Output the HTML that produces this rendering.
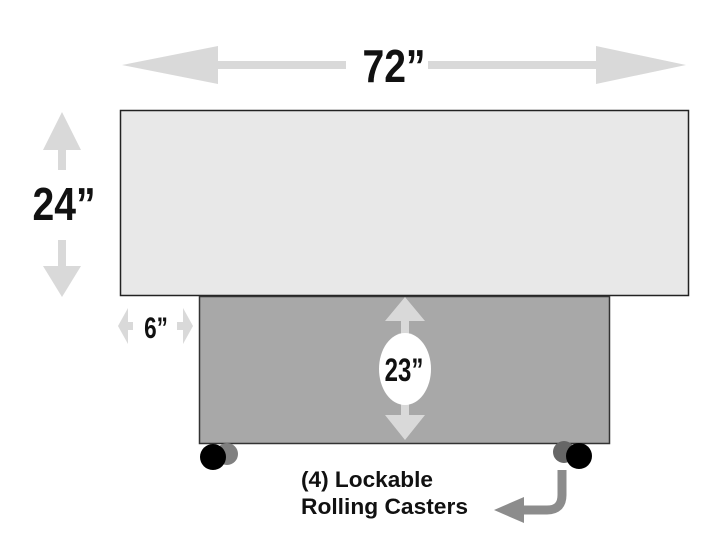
<!DOCTYPE html>
<html><head><meta charset="utf-8"><style>
html,body{margin:0;padding:0;background:#fff;}
svg{display:block}
text{font-family:"Liberation Sans",sans-serif;font-weight:bold;}
</style></head><body>
<svg width="716" height="550" viewBox="0 0 716 550" xmlns="http://www.w3.org/2000/svg">
<rect x="0" y="0" width="716" height="550" fill="#fff"/>
<g fill="#d9d9d9">
<polygon points="122,65 218,46 218,84"/>
<rect x="216" y="61" width="130" height="8"/>
<rect x="428" y="61" width="170" height="8"/>
<polygon points="686,65 596,46 596,84"/>
<polygon points="62,112 43,150 81,150"/>
<rect x="58" y="148" width="8" height="22"/>
<rect x="58" y="240" width="8" height="28"/>
<polygon points="62,297 43,266 81,266"/>
<polygon points="118,326 128,308 128,344"/>
<rect x="127" y="322" width="6" height="8"/>
<polygon points="193,326 183,308 183,344"/>
<rect x="177" y="322" width="7" height="8"/>
</g>
<text x="394" y="82" font-size="46" text-anchor="middle" transform="scale(0.85,1) translate(69.5,0)" fill="#111">72”</text>
<text x="64" y="220" font-size="46" text-anchor="middle" transform="translate(9.6,0) scale(0.85,1)" fill="#111">24”</text>
<text x="0" y="0" font-size="30" text-anchor="middle" transform="translate(156,338) scale(0.75,1)" fill="#111">6”</text>
<rect x="120.5" y="110.5" width="568" height="185" fill="#e8e8e8" stroke="#222" stroke-width="1.5"/>
<rect x="199.5" y="296.5" width="410" height="147" fill="#a8a8a8" stroke="#333" stroke-width="1.5"/>
<g fill="#d9d9d9">
<polygon points="405,297 385,321 425,321"/>
<rect x="401" y="319" width="8" height="20"/>
<rect x="401" y="400" width="8" height="18"/>
<polygon points="405,440 385,415 425,415"/>
</g>
<ellipse cx="405" cy="369" rx="26" ry="36" fill="#fff"/>
<text x="0" y="0" font-size="32" text-anchor="middle" transform="translate(404,381) scale(0.75,1)" fill="#111">23”</text>
<circle cx="227" cy="454" r="11" fill="#808080"/>
<circle cx="213" cy="457" r="13" fill="#000"/>
<circle cx="564" cy="452" r="11" fill="#666"/>
<circle cx="579" cy="456" r="13" fill="#000"/>
<path d="M562,470 L562,495 Q562,510 547,510 L522,510" fill="none" stroke="#8c8c8c" stroke-width="9"/>
<polygon points="494,510 524,497 524,523" fill="#8c8c8c"/>
<text x="301" y="487" font-size="22" fill="#111" textLength="132" lengthAdjust="spacingAndGlyphs">(4) Lockable</text>
<text x="301" y="514" font-size="22" fill="#111" textLength="167" lengthAdjust="spacingAndGlyphs">Rolling Casters</text>
</svg>
</body></html>
